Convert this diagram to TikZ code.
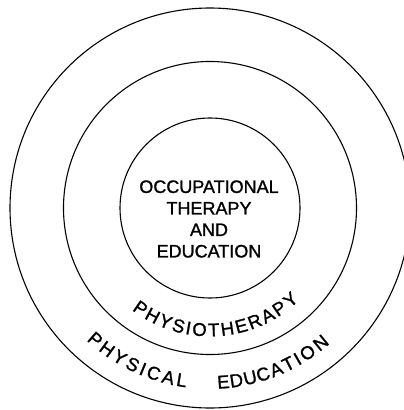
\documentclass[tikz,border=0pt]{standalone}
\usepackage{fontspec}
\setmainfont{Liberation Sans}
\newfontfamily\lettering{Liberation Sans}[FakeBold=1.2]
\usetikzlibrary{calc}
\begin{document}
\begin{tikzpicture}[x=1pt,y=-1pt,
  ring/.style={draw=black,line width=1.1pt},
  letter/.style={inner sep=0pt,font=\lettering\fontsize{18.5}{21.5}\selectfont},
  core/.style={inner sep=0pt,align=center,font=\lettering\fontsize{18}{21.5}\selectfont}]
\useasboundingbox[fill=white] (0,0) rectangle (404,410);
\clip (0,0) rectangle (404,410);
\coordinate (c) at (210,208);
\draw[ring] (c) circle[radius=90];
\draw[ring] (c) circle[radius=146.5];
\draw[ring] (c) circle[radius=200];
\node[core] (inner) at (209,219) {OCCUPATIONAL\\THERAPY\\AND\\EDUCATION};
% PHYSIOTHERAPY
\foreach \ch/\a [count=\i] in {P/235.3,H/241.98,Y/248.66,S/255.1,I/259.84,O/265.08,T/271.75,H/278.19,E/284.87,R/291.54,A/298.22,P/304.66,Y/311.3}
  \node[letter,rotate=\a+90] (pt\i) at ($(c)+(\a:122 and -122)$) {\ch};
% PHYSICAL EDUCATION
\foreach \ch/\a [count=\i] in {P/228.9,H/233.9,Y/238.9,S/243.73,I/247.39,C/251.2,A/256.2,L/260.7,E/274.4,D/278.7,U/283.3,C/287.7,A/292.3,T/296.7,I/300.1,O/304.0,N/309.4}
  \node[letter,rotate=\a+90] (pe\i) at ($(c)+(\a:174.5 and -174.5)$) {\ch};
\end{tikzpicture}
\end{document}
